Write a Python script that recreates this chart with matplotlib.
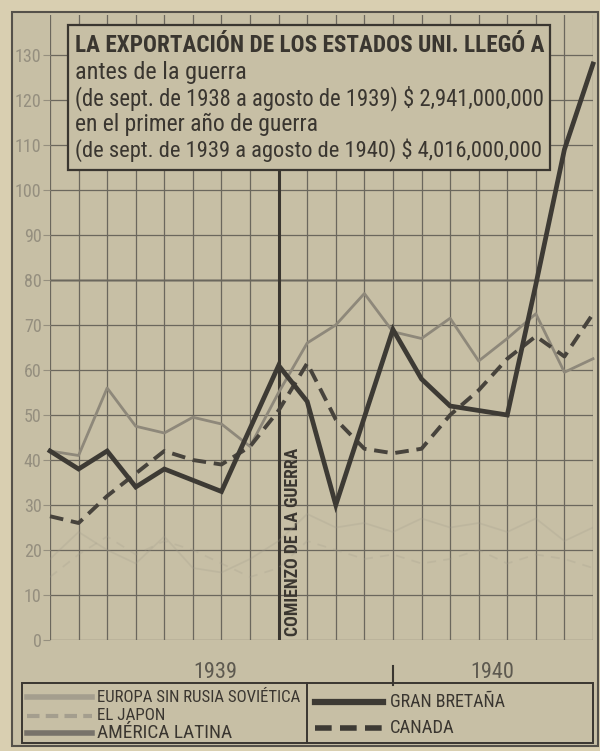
import numpy as np
import matplotlib
matplotlib.use("Agg")
import matplotlib.pyplot as plt
from matplotlib.patches import Rectangle
from matplotlib.lines import Line2D
from matplotlib import font_manager

# months Jan 1939 .. Aug 1940 (millions of dollars)
meses = ['E', 'F', 'M', 'A', 'M', 'J', 'J', 'A', 'S', 'O', 'N', 'D',
         'E', 'F', 'M', 'A', 'M', 'J', 'J', 'A']
gran_bretana = [42, 38, 42, 34, 38, 35.5, 33, 47, 61, 53, 30, 49.5,
                69, 58, 52, 51, 50, 79, 109, 128]
canada = [27.5, 26, 32, 37, 42, 40, 39, 43, 51, 61.5, 49, 42.5,
          41.5, 42.5, 50, 55.5, 62.5, 67.5, 63, 72.5]
america_latina = [42, 41, 56, 47.5, 46, 49.5, 48, 43, 55, 66, 70, 77,
                  68.5, 67, 71.5, 62, 67, 72.5, 59.5, 62.5]
europa = [18, 24, 20, 17, 23, 16, 15, 18, 22, 28, 25, 26,
          24, 27, 25, 26, 24, 27, 22, 25]
japon = [14, 19, 23, 19, 22, 20, 17, 14, 16, 22, 20, 18,
         19, 17, 18, 20, 17, 19, 18, 16]
y_ticks = list(range(0, 131, 10))
titulo = "LA EXPORTACIÓN DE LOS ESTADOS UNI. LLEGÓ A"
lineas = ["antes de la guerra",
          "(de sept. de 1938 a agosto de 1939) $ 2,941,000,000",
          "en el primer año de guerra",
          "(de sept. de 1939 a agosto de 1940) $ 4,016,000,000"]
leyenda_izq = ["EUROPA SIN RUSIA SOVIÉTICA", "EL JAPON", "AMÉRICA LATINA"]
leyenda_der = ["GRAN BRETAÑA", "CANADA"]

# pick a narrow font if there is one
fam = "DejaVu Sans"
for f in ["Liberation Sans Narrow", "DejaVu Sans Condensed", "Roboto Condensed"]:
    try:
        font_manager.findfont(f, fallback_to_default=False)
        fam = f
        break
    except Exception:
        pass

W, H = 600, 751
ink = "#3a3630"
bg = "#c7bfa5"

fig = plt.figure(figsize=(6, 7.51), dpi=100, facecolor="#d9cfb1")

def fx(px):
    return px / W

def fy(py):
    return 1 - py / H

# outer frame
fig.add_artist(Rectangle((fx(12), fy(746)), fx(586), 734 / H, transform=fig.transFigure,
                         facecolor=bg, edgecolor="#55514a", lw=1.5, zorder=-1))

ax = fig.add_axes([fx(50), fy(640), 543 / W, 625 / H])
ax.patch.set_alpha(0)
x = np.arange(len(meses))
ax.set_xlim(0, len(meses) - 1)
ax.set_ylim(0, 625 / 4.5)

for v in x:
    ax.axvline(v, color="#6b675d", lw=0.9, zorder=1)
for v in y_ticks:
    ax.axhline(v, color="#6b675d", lw=0.9, zorder=1)
ax.axhline(80, color="#6b675d", lw=1.8, alpha=0.6, zorder=1)
for s in ax.spines.values():
    s.set_visible(False)

ax.set_xticks([])
ax.set_yticks(y_ticks)
ax.set_yticklabels([str(v) for v in y_ticks], color="#958f7f", fontsize=13, family=fam)
ax.tick_params(axis="y", length=5, color="#958f7f", pad=1)

texts = []

# war start line
ax.plot([8, 8], [0, 104], color=ink, lw=2.2, zorder=2)
t = ax.text(8.5, 1, "COMIENZO DE LA GUERRA", rotation=90, ha="center", va="bottom",
            fontsize=11, fontweight="bold", color=ink, family=fam)
texts.append((t, 188, "h"))

ax.plot(x, europa, color="#a39d8c", lw=1.3, alpha=0.25, zorder=3)
ax.plot(x, japon, color="#a39d8c", lw=1.3, alpha=0.25, ls=(0, (5, 4)), zorder=3)
ax.plot(x, america_latina, color="#8e887a", lw=2.0, zorder=4, clip_on=False)
ax.plot(x, canada, color="#47433c", lw=2.8, ls=(0, (3.5, 2)), zorder=5, clip_on=False)
ax.plot(x, gran_bretana, color="#3d3a34", lw=3.4, zorder=6, clip_on=False,
        solid_joinstyle="miter")

# years under the axis
fig.text(fx(215), fy(673), "1939", ha="center", va="center", fontsize=16, color="#5e5a50", family=fam)
fig.text(fx(492), fy(673), "1940", ha="center", va="center", fontsize=16, color="#5e5a50", family=fam)
fig.add_artist(Line2D([fx(393), fx(393)], [fy(666), fy(685)], color=ink, lw=1.5))

# title box
fig.add_artist(Rectangle((fx(68), fy(170)), fx(482), 145 / H, transform=fig.transFigure,
                         facecolor=bg, edgecolor=ink, lw=1.6, zorder=5))
t = fig.text(fx(75), fy(45), titulo, ha="left", va="center", fontsize=16,
             fontweight="bold", color=ink, family=fam, zorder=6)
texts.append((t, 468, "w"))
ys = [72, 98, 124, 150]
widths = [172, 468, 244, 466]
for s, yy, w in zip(lineas, ys, widths):
    t = fig.text(fx(75), fy(yy), s, ha="left", va="center", fontsize=15,
                 color=ink, family=fam, zorder=6)
    texts.append((t, w, "w"))

# legend box
fig.add_artist(Rectangle((fx(22), fy(743)), fx(571), 60 / H, transform=fig.transFigure,
                         facecolor="none", edgecolor=ink, lw=1.4, zorder=5))
fig.add_artist(Line2D([fx(307), fx(307)], [fy(743), fy(683)], color=ink, lw=1.4))
styles_izq = [dict(color="#a49e8e", lw=4), dict(color="#a49e8e", lw=3, ls=(0, (3, 1.5))),
              dict(color="#77726a", lw=4)]
for s, yy, st, w in zip(leyenda_izq, [697, 716, 733], styles_izq, [203, 68, 135]):
    fig.add_artist(Line2D([fx(27), fx(92)], [fy(yy), fy(yy)], **st))
    t = fig.text(fx(97), fy(yy), s, ha="left", va="center", fontsize=11, color=ink, family=fam)
    texts.append((t, w, "w"))
styles_der = [dict(color="#3d3a34", lw=4.5), dict(color="#3d3a34", lw=4, ls=(0, (3, 1.5)))]
for s, yy, st, w in zip(leyenda_der, [702, 728], styles_der, [115, 65]):
    fig.add_artist(Line2D([fx(315), fx(383)], [fy(yy), fy(yy)], **st))
    t = fig.text(fx(390), fy(yy), s, ha="left", va="center", fontsize=11, color=ink, family=fam)
    texts.append((t, w, "w"))

# squeeze texts to the printed widths
fig.canvas.draw()
r = fig.canvas.get_renderer()
for t, w, d in texts:
    bb = t.get_window_extent(r)
    cur = bb.width if d == "w" else bb.height
    t.set_fontsize(t.get_fontsize() * w / cur)

fig.savefig("out.png", dpi=100, facecolor=fig.get_facecolor())
